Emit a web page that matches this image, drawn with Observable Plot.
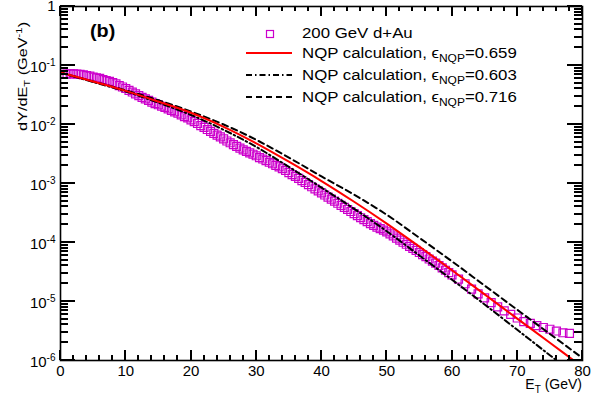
<!DOCTYPE html>
<html><head><meta charset="utf-8">
<script src="https://cdn.jsdelivr.net/npm/d3@7"></script>
<script src="https://cdn.jsdelivr.net/npm/@observablehq/plot@0.6"></script>
<style>
html,body{margin:0;padding:0;background:#fff;}
#wrap{position:relative;width:612px;height:396px;overflow:hidden;font-family:"Liberation Sans",Arial,Helvetica,sans-serif;color:#000;}
.ov{position:absolute;white-space:nowrap;line-height:14px;font-size:14px;}
.lt{transform-origin:0 0;transform:scaleX(1.2);}
.sub{position:relative;top:4px;font-size:10px;}
.sup{position:relative;top:-5px;font-size:10px;}
.tk{position:absolute;background:#000;z-index:5;}
</style></head><body><div id="wrap"></div>
<script>
// measured data: 200 GeV d+Au (E_T in GeV, dY/dE_T in GeV^-1)
const dataET = [0.5,1,1.5,2,2.5,3,3.5,4,4.5,5,5.5,6,6.5,7,7.5,8,8.5,9,9.5,10,
  10.5,11,11.5,12,12.5,13,13.5,14,14.5,15,15.5,16,16.5,17,17.5,18,18.5,19,19.5,20,
  20.5,21,21.5,22,22.5,23,23.5,24,24.5,25,25.5,26,26.5,27,27.5,28,28.5,29,29.5,30,
  30.5,31,31.5,32,32.5,33,33.5,34,34.5,35,35.5,36,36.5,37,37.5,38,38.5,39,39.5,40,
  40.5,41,41.5,42,42.5,43,43.5,44,44.5,45,45.5,46,46.5,47,47.5,48,48.5,49,49.5,50,
  50.5,51,51.5,52,52.5,53,53.5,54,54.5,55,55.5,56,56.5,57,57.5,58,58.5,59,59.5,60,
  61,62,63,64,65,66,67,68,69,70,71,72,73,74,75,76,77,78];
const dataY = [0.0708,0.0716,0.0724,0.0724,0.0716,0.0708,0.0692,0.0676,0.0661,0.0638,
  0.0617,0.0603,0.0575,0.0556,0.0537,0.0513,0.0490,0.0457,0.0432,0.0407,
  0.0380,0.0355,0.0331,0.0309,0.0288,0.0272,0.0257,0.0240,0.0226,0.0216,
  0.0204,0.0195,0.0184,0.0174,0.0164,0.0155,0.0146,0.0136,0.0129,0.0120,
  0.0112,0.0104,0.00955,0.00891,0.00822,0.00767,0.00708,0.00661,0.00617,0.00569,
  0.00525,0.00490,0.00457,0.00427,0.00398,0.00372,0.00351,0.00331,0.00313,0.00295,
  0.00275,0.00260,0.00245,0.00229,0.00216,0.00202,0.00191,0.00178,0.00166,0.00153,
  0.00141,0.00132,0.00122,0.00112,0.00104,0.000955,0.000881,0.000813,0.000750,0.000692,
  0.000638,0.000589,0.000543,0.000501,0.000462,0.000427,0.000394,0.000363,0.000335,0.000309,
  0.000285,0.000263,0.000245,0.000226,0.000209,0.000195,0.000182,0.000172,0.000162,0.000151,
  0.000140,0.000129,0.000119,0.000110,0.000101,9.33e-5,8.61e-5,7.94e-5,7.33e-5,6.76e-5,
  6.24e-5,5.75e-5,5.25e-5,4.84e-5,4.47e-5,4.07e-5,3.72e-5,3.39e-5,3.09e-5,2.82e-5,
  2.40e-5,2.00e-5,1.62e-5,1.35e-5,1.15e-5,9.55e-6,8.13e-6,6.92e-6,6.03e-6,5.25e-6,
  4.57e-6,4.27e-6,3.89e-6,3.63e-6,3.39e-6,3.16e-6,2.95e-6,2.88e-6];

// NQP calculations
const calcET = [0,5,10,15,20,25,30,35,40,45,50,55,60,65,70,75,80];
const nqp659 = [0.0759,0.0537,0.0372,0.0245,0.0158,0.00912,0.00479,0.00234,0.00110,0.000490,0.000209,8.51e-5,3.39e-5,1.32e-5,5.13e-6,2.00e-6,7.76e-7];
const nqp603 = [0.0759,0.0525,0.0363,0.0234,0.0145,0.00813,0.00417,0.00191,0.000851,0.000372,0.000155,6.03e-5,2.34e-5,8.91e-6,3.31e-6,1.23e-6,4.57e-7];
const nqp716 = [0.0759,0.0537,0.0380,0.0257,0.0166,0.0100,0.00550,0.00275,0.00132,0.000646,0.000295,0.000120,4.79e-5,1.86e-5,7.24e-6,2.82e-6,1.10e-6];

// ticks
const xMajor = [0,10,20,30,40,50,60,70,80];
const xMinor = [2,4,6,8,12,14,16,18,22,24,26,28,32,34,36,38,42,44,46,48,52,54,56,58,62,64,66,68,72,74,76,78];
const yMajor = [1e-6,1e-5,1e-4,1e-3,1e-2,1e-1,1];
const yMinorMult = [2,3,4,5,6,7,8,9];
const yMinor = yMajor.slice(0,-1).flatMap(d => yMinorMult.map(m => d*m));

const W = 612, H = 396, ML = 60, MR = 30, MT = 6, MB = 36;

const points = dataET.map((e,i) => ({e, y: dataY[i]}));
const curve = arr => calcET.map((e,i) => ({e, y: arr[i]}));
const fmtY = v => v === 1 ? "1" : "10^" + Math.round(Math.log10(v));

const svg = Plot.plot({
  width: W, height: H,
  marginLeft: ML, marginRight: MR, marginTop: MT, marginBottom: MB,
  style: {fontFamily: '"Liberation Sans", Arial, Helvetica, sans-serif', fontSize: "15px", color: "#000", background: "#fff"},
  x: {domain: [0, 80]},
  y: {type: "log", domain: [1e-6, 1]},
  marks: [
    Plot.axisX(xMajor, {anchor: "bottom", tickSize: 0, tickPadding: 5, label: null, fontSize: 15}),
    Plot.axisY(yMajor, {anchor: "left", tickSize: 0, tickPadding: 5, tickFormat: fmtY, label: null, fontSize: 15}),
    Plot.dot(points, {x: "e", y: "y", symbol: "square", r: 4.5, stroke: "#cc00cc", fill: "none", strokeWidth: 1.2, clip: true}),
    Plot.line(curve(nqp603), {x: "e", y: "y", stroke: "#000", strokeWidth: 2, strokeDasharray: "6,3,1.5,3", curve: "catmull-rom", clip: true}),
    Plot.line(curve(nqp716), {x: "e", y: "y", stroke: "#000", strokeWidth: 2, strokeDasharray: "6,4", curve: "catmull-rom", clip: true}),
    Plot.line(curve(nqp659), {x: "e", y: "y", stroke: "#ff0000", strokeWidth: 2, curve: "catmull-rom", clip: true}),
    Plot.frame({stroke: "#000", strokeWidth: 1.6})
  ]
});

// superscript exponents on y tick labels
d3.select(svg).selectAll("text").each(function() {
  const t = this.textContent;
  if (/^10\^-?\d+$/.test(t)) {
    const exp = t.split("^")[1];
    const sel = d3.select(this);
    sel.text(null);
    sel.append("tspan").attr("dy", "2").text("10");
    sel.append("tspan").attr("dy", "-6").attr("font-size", "10px").text(exp);
  }
});

const wrap = document.getElementById("wrap");
wrap.appendChild(svg);

// inward ROOT-style ticks on all four sides, placed with Plot's own scales (pixel-aligned)
const sx = svg.scale("x"), sy = svg.scale("y");
const fx0 = ML, fx1 = W - MR, fy0 = MT, fy1 = H - MB;
let th = "";
const xt = (vals, len) => vals.forEach(v => {
  const px = Math.round(sx.apply(v));
  th += `<div class="tk" style="left:${px-1}px;top:${fy1-len}px;width:2px;height:${len}px"></div>`;
  th += `<div class="tk" style="left:${px-1}px;top:${fy0}px;width:2px;height:${len}px"></div>`;
});
const yt = (vals, len) => vals.forEach(v => {
  const py = Math.round(sy.apply(v));
  th += `<div class="tk" style="left:${fx0}px;top:${py-1}px;width:${len}px;height:2px"></div>`;
  th += `<div class="tk" style="left:${fx1-len}px;top:${py-1}px;width:${len}px;height:2px"></div>`;
});
xt(xMajor, 10); xt(xMinor, 5); yt(yMajor, 15); yt(yMinor, 8);
wrap.insertAdjacentHTML("beforeend", th);

const legendRows = [
  {kind: "marker", label: "200 GeV d+Au", top: 26},
  {kind: "line", dash: null, color: "#ff0000", label: "0.659", top: 46},
  {kind: "line", dash: "6,3,1.5,3", color: "#000", label: "0.603", top: 68},
  {kind: "line", dash: "6,4", color: "#000", label: "0.716", top: 90}
];
let html = "";
legendRows.forEach(r => {
  const cy = r.top + 7;
  if (r.kind === "marker") {
    html += `<svg class="ov" style="left:264px;top:${cy-5}px" width="12" height="12"><rect x="2.5" y="2.5" width="7" height="7" fill="none" stroke="#cc00cc" stroke-width="1.2"/></svg>`;
    html += `<div class="ov lt" style="left:302px;top:${r.top}px">${r.label}</div>`;
  } else {
    html += `<svg class="ov" style="left:246px;top:${cy-2}px" width="46" height="4"><line x1="0" y1="2" x2="46" y2="2" stroke="${r.color}" stroke-width="2" ${r.dash ? `stroke-dasharray="${r.dash}"` : ""}/></svg>`;
    html += `<div class="ov lt" style="left:302px;top:${r.top}px">NQP calculation, ϵ<span class="sub">NQP</span>=${r.label}</div>`;
  }
});
html += `<div class="ov" style="left:90px;top:22px;font-size:18px;line-height:18px;font-weight:bold;transform-origin:0 0;transform:scaleX(1.1)">(b)</div>`;
html += `<div class="ov" style="right:30px;top:377px;">E<span class="sub">T</span> (GeV)</div>`;
html += `<div class="ov" style="left:16px;top:131px;font-size:13px;line-height:13px;transform-origin:0 0;transform:rotate(-90deg) scaleX(1.25)">dY/dE<span class="sub" style="top:3px;font-size:9px">T</span> (GeV<span class="sup" style="font-size:9px">-1</span>)</div>`;
wrap.insertAdjacentHTML("beforeend", html);
</script></body></html>
